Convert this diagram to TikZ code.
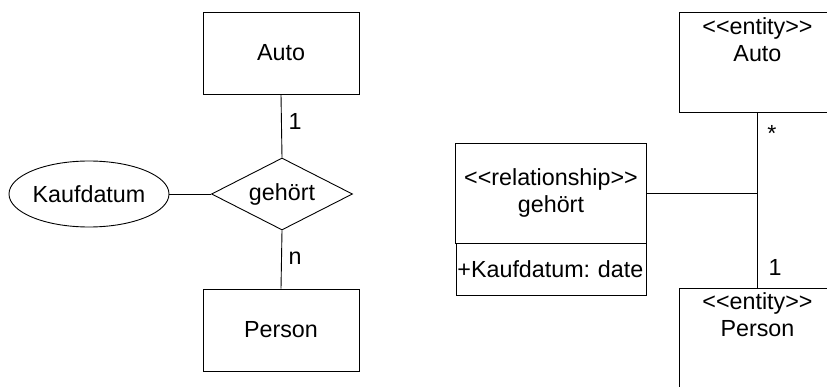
\documentclass[tikz,border=0pt]{standalone}
\usepackage{fontspec}
\setmainfont{Liberation Sans}
\usetikzlibrary{shapes.geometric}
\newcommand\myll{\mbox{<}\kern0pt\mbox{<}}
\newcommand\mygg{\mbox{>}\kern0pt\mbox{>}}
\begin{document}
\begin{tikzpicture}[x=1pt,y=-1pt,
  every node/.style={font=\fontsize{23.3}{27}\selectfont\frenchspacing},
  ent/.style={draw,line width=0.9pt,rectangle,inner sep=0pt,minimum width=156pt,minimum height=82pt},
  ument/.style={draw,line width=0.9pt,rectangle,inner sep=0pt,minimum width=156pt,minimum height=100pt,anchor=north west},
  conn/.style={line width=0.9pt},
  lbl/.style={inner sep=0pt}]
\useasboundingbox (0,0) rectangle (827,387);
\clip (0,0) rectangle (827,387);
% left: ER diagram
\node[ent] (auto) at (281,53) {Auto};
\node[ent] (person) at (281,330) {Person};
\node[draw,line width=0.9pt,diamond,inner sep=0pt,shape aspect=1.96,minimum width=141pt,minimum height=72pt] (rel) at (282,194) {gehört};
\node[draw,line width=0.9pt,ellipse,inner sep=0pt,minimum width=160pt,minimum height=66pt] (attr) at (89,194) {Kaufdatum};
\draw[conn] (auto.south) -- (rel.north);
\draw[conn] (rel.south) -- (person.north);
\draw[conn] (attr.east) -- (rel.west);
\node[lbl] (l1) at (295,121) {1};
\node[lbl] (ln) at (295,258) {n};
% right: UML diagram
\node[ument] (eauto) at (679,12) {};
\node[anchor=north,inner sep=5pt,align=center] (eautot) at (eauto.north) {\myll entity\mygg\\Auto};
\node[ument] (eperson) at (679,288) {};
\node[anchor=north,inner sep=4pt,align=center] (epersont) at (eperson.north) {\myll entity\mygg\\Person};
\node[draw,line width=0.9pt,rectangle,inner sep=0pt,minimum width=191pt,minimum height=100pt,align=center,anchor=north west] (rbox) at (455,143) {\myll relationship\mygg\\gehört};
\node[draw,line width=0.9pt,rectangle,inner sep=1pt,minimum width=190pt,minimum height=52pt,text width=188pt,align=left,anchor=north west] (abox) at (456,243) {+Kaufdatum: date};
\draw[conn] (eauto.south) -- (eperson.north);
\coordinate (j) at (eauto.south |- rbox.east);
\draw[conn] (rbox.east) -- (j);
\node[lbl] (ls) at (772,133) {*};
\node[lbl] (l1r) at (775,267) {1};
\end{tikzpicture}
\end{document}
